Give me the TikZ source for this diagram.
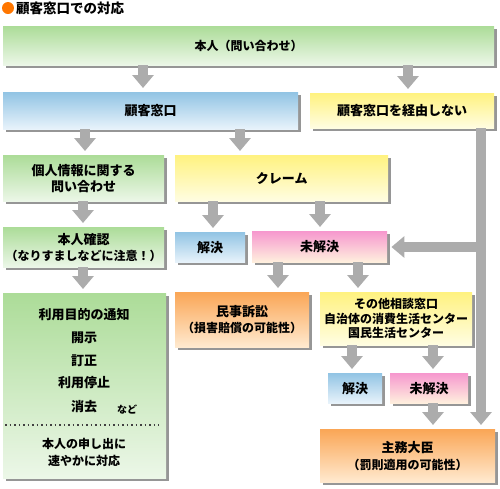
\documentclass[tikz,border=0pt]{standalone}
\usepackage{fontspec}
\setmainfont{Noto Sans CJK JP}
\usetikzlibrary{arrows.meta,shadows}
\definecolor{greenA}{RGB}{172,220,152}
\definecolor{greenB}{RGB}{236,247,232}
\definecolor{blueA}{RGB}{146,196,228}
\definecolor{blueB}{RGB}{232,243,251}
\definecolor{yellowA}{RGB}{255,242,128}
\definecolor{yellowB}{RGB}{255,253,226}
\definecolor{pinkA}{RGB}{246,152,206}
\definecolor{pinkB}{RGB}{255,240,222}
\definecolor{orangeA}{RGB}{250,166,86}
\definecolor{orangeB}{RGB}{255,234,208}
\definecolor{shadowgray}{RGB}{150,150,150}
\definecolor{arrowgray}{RGB}{172,172,172}
\definecolor{titleorange}{RGB}{255,118,0}
\newcommand{\smalljp}{\fontsize{12}{15}\selectfont}
\tikzset{
  box/.style={anchor=north west,drop shadow={shadow xshift=3pt,shadow yshift=-3pt,fill=shadowgray,opacity=1}},
  greenbox/.style={box,top color=greenA,bottom color=greenB},
  bluebox/.style={box,top color=blueA,bottom color=blueB},
  yellowbox/.style={box,top color=yellowA,bottom color=yellowB},
  pinkbox/.style={box,top color=pinkA,bottom color=pinkB},
  orangebox/.style={box,top color=orangeA,bottom color=orangeB},
  grayarrow/.style={draw=arrowgray,line width=10pt,-{Triangle[width=21pt,length=13pt]},shorten >=4pt},
  dotline/.style={line width=1.5pt,dash pattern=on 1.5pt off 3pt,black!75}
}

\begin{document}
\begin{tikzpicture}[x=1pt,y=-1pt,every node/.style={font=\bfseries\fontsize{13}{16}\selectfont,inner sep=0pt,align=center}]
\useasboundingbox(0,0)rectangle(500,488);
% title
\fill[titleorange](8,8)circle[radius=6pt];
\node[anchor=west,font=\bfseries\fontsize{13.5}{15}\selectfont](title)at(16,8){顧客窓口での対応};
% boxes
\node[greenbox,minimum width=491pt,minimum height=39pt,font=\bfseries\smalljp](inquiry)at(3,26){本人（問い合わせ）};
\node[bluebox,minimum width=295pt,minimum height=37pt](desk)at(3,92){顧客窓口};
\node[yellowbox,minimum width=184pt,minimum height=35pt](nodesk)at(310,93){顧客窓口を経由しない};
\node[greenbox,minimum width=161pt,minimum height=46pt](personal)at(3,155){個人情報に関する\\問い合わせ};
\node[yellowbox,minimum width=213pt,minimum height=46pt](claim)at(175,155){クレーム};
\node[greenbox,minimum width=161pt,minimum height=40pt](identity)at(3,227){本人確認\\{\smalljp（なりすましなどに注意！）}};
\node[bluebox,minimum width=70pt,minimum height=30pt](solved)at(175,232){解決};
\node[pinkbox,minimum width=135pt,minimum height=31pt](unsolved)at(252,231){未解決};
\node[greenbox,minimum width=163pt,minimum height=185pt](notice)at(3,293){};
\node[orangebox,minimum width=134pt,minimum height=55pt](civil)at(175,292){民事訴訟\\{\smalljp（損害賠償の可能性）}};
\node[yellowbox,minimum width=152pt,minimum height=53pt,font=\bfseries\fontsize{12}{14.5}\selectfont](other)at(320,292){その他相談窓口\\自治体の消費生活センター\\国民生活センター};
\node[bluebox,minimum width=54pt,minimum height=30pt](solvedb)at(328,373){解決};
\node[pinkbox,minimum width=78pt,minimum height=30pt](unsolvedb)at(390,373){未解決};
\node[orangebox,minimum width=175pt,minimum height=53pt,font=\bfseries\fontsize{13}{17}\selectfont](minister)at(320,429){主務大臣\\{\smalljp（罰則適用の可能性）}};
% texts in the big green box
\node(purpose)at(84,315){利用目的の通知};
\node(disclose)at(84,338){開示};
\node(correct)at(84,361){訂正};
\node(suspend)at(84,383){利用停止};
\node(erase)at(84,407){消去};
\node[font=\bfseries\fontsize{10}{12}\selectfont](etc)at(127,410){など};
\draw[dotline](5,425)--(159,425);
\node[font=\bfseries\fontsize{12}{17}\selectfont](respond)at(84,452){本人の申し出に\\速やかに対応};
% arrows
\draw[grayarrow](143,0|-inquiry.south)--(143,0|-desk.north);
\draw[grayarrow](408,0|-inquiry.south)--(408,0|-nodesk.north);
\draw[grayarrow](85,0|-desk.south)--(85,0|-personal.north);
\draw[grayarrow](240,0|-desk.south)--(240,0|-claim.north);
\draw[grayarrow](83,0|-personal.south)--(83,0|-identity.north);
\draw[grayarrow](83,0|-identity.south)--(83,0|-notice.north);
\draw[grayarrow](213,0|-claim.south)--(213,0|-solved.north);
\draw[grayarrow](320,0|-claim.south)--(320,0|-unsolved.north);
\draw[grayarrow](278,0|-unsolved.south)--(278,0|-civil.north);
\draw[grayarrow](358,0|-unsolved.south)--(358,0|-other.north);
\draw[grayarrow](352,0|-other.south)--(352,0|-solvedb.north);
\draw[grayarrow](433,0|-other.south)--(433,0|-unsolvedb.north);
\draw[grayarrow](433,0|-unsolvedb.south)--(433,0|-minister.north);
\draw[grayarrow](481,0|-nodesk.south)--(481,0|-minister.north);
\coordinate(branch)at(486,247);
\draw[grayarrow](branch)--(branch-|unsolved.east);
\end{tikzpicture}
\end{document}
